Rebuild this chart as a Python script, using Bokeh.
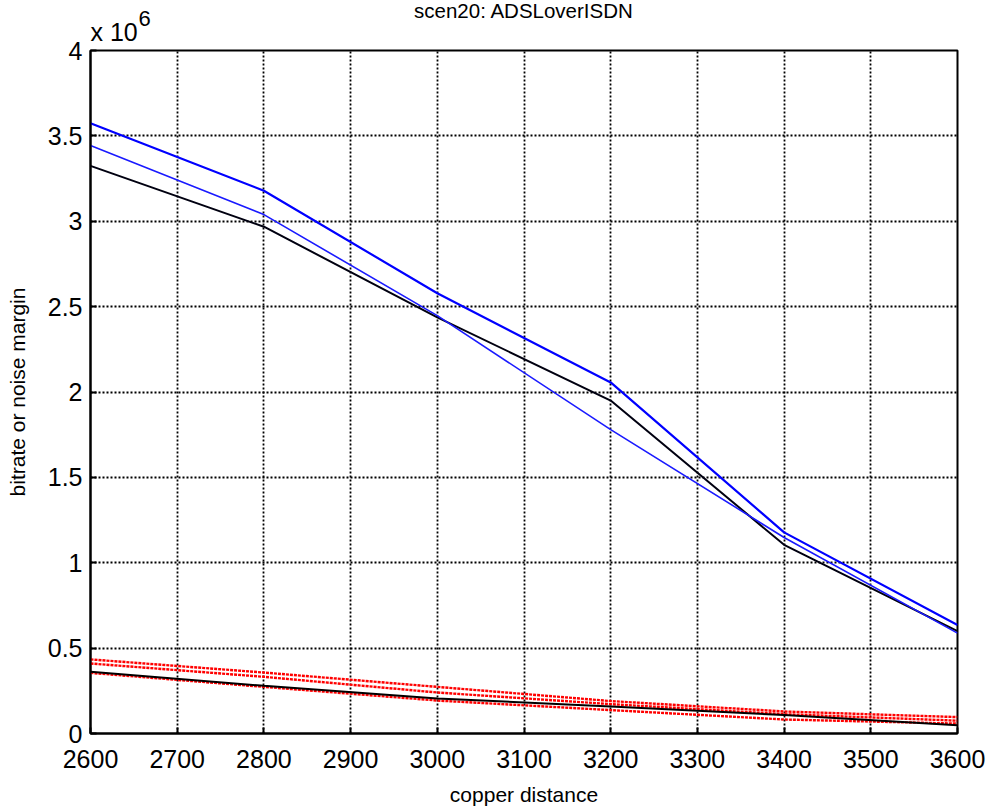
from bokeh.plotting import figure
from bokeh.models import Range1d, FixedTicker, CustomJSTickFormatter, Title
from bokeh.embed import file_html
from bokeh.resources import INLINE

distance = [2600, 2800, 3000, 3200, 3400, 3600]

blue_upper = [3.574e6, 3.179e6, 2.578e6, 2.056e6, 1.178e6, 0.635e6]
blue_lower = [3.443e6, 3.039e6, 2.447e6, 1.780e6, 1.148e6, 0.588e6]
black_upper = [3.324e6, 2.968e6, 2.437e6, 1.950e6, 1.105e6, 0.600e6]

red_top = [0.434e6, 0.357e6, 0.273e6, 0.190e6, 0.129e6, 0.096e6]
red_mid = [0.410e6, 0.332e6, 0.240e6, 0.172e6, 0.113e6, 0.075e6]
red_low = [0.355e6, 0.273e6, 0.193e6, 0.137e6, 0.082e6, 0.058e6]
black_lower = [0.361e6, 0.279e6, 0.205e6, 0.158e6, 0.108e6, 0.049e6]

x_ticks = [2600, 2700, 2800, 2900, 3000, 3100, 3200, 3300, 3400, 3500, 3600]
y_ticks = [0, 0.5e6, 1e6, 1.5e6, 2e6, 2.5e6, 3e6, 3.5e6, 4e6]

title_text = "scen20: ADSLoverISDN"
exp_base = "x 10"
exp_power = "6"
x_label = "copper distance"
y_label = "bitrate or noise margin"

FONT = "Liberation Sans"
TICK_FS = "25px"
LAB_FS = "21px"

p = figure(width=989, height=809, output_backend="svg", toolbar_location=None,
           x_range=Range1d(2600, 3600), y_range=Range1d(0, 4e6),
           min_border_left=90, min_border_right=32, min_border_top=50, min_border_bottom=76)
p.background_fill_color = "white"
p.border_fill_color = "white"
p.outline_line_color = "black"
p.outline_line_width = 2

for ax in (p.xaxis[0], p.yaxis[0]):
    ax.major_tick_in = 6
    ax.major_tick_out = 0
    ax.minor_tick_in = 0
    ax.minor_tick_out = 0
    ax.axis_line_color = "black"
    ax.axis_line_width = 2
    ax.major_tick_line_width = 2
    ax.major_label_text_font = FONT
    ax.major_label_text_font_size = TICK_FS
    ax.major_label_text_color = "black"
    ax.axis_label_text_font = FONT
    ax.axis_label_text_font_size = LAB_FS
    ax.axis_label_text_font_style = "normal"
    ax.axis_label_text_color = "black"

p.xaxis[0].ticker = FixedTicker(ticks=x_ticks)
p.yaxis[0].ticker = FixedTicker(ticks=y_ticks)
p.yaxis[0].formatter = CustomJSTickFormatter(code="return (tick/1e6).toString();")
p.xaxis[0].axis_label = x_label
p.yaxis[0].axis_label = y_label
p.xaxis[0].major_label_standoff = 16
p.yaxis[0].major_label_standoff = 8
p.xaxis[0].axis_label_standoff = 12
p.yaxis[0].axis_label_standoff = 16

p.xgrid.ticker = FixedTicker(ticks=x_ticks)
p.ygrid.ticker = FixedTicker(ticks=y_ticks)
for g in (p.xgrid[0], p.ygrid[0]):
    g.grid_line_color = "black"
    g.grid_line_dash = "2 2"
    g.grid_line_width = 1.8
    g.grid_line_alpha = 1.0

# red noise-margin lines
for ys in (red_top, red_mid, red_low):
    p.line(distance, ys, line_color="#ff0000", line_width=2.4, line_dash="3 1")
p.line(distance, black_lower, line_color="black", line_width=2)

p.line(distance, black_upper, line_color="#000010", line_width=2)
p.line(distance, blue_lower, line_color="#1a1aff", line_width=1.6)
p.line(distance, blue_upper, line_color="#0000ff", line_width=2.2)

t_base = Title(text=exp_base, align="left", text_font=FONT, text_font_size=TICK_FS,
               text_font_style="normal", text_color="black", standoff=10)
t_pow = Title(text=exp_power, align="left", offset=48, text_font=FONT, text_font_size="22px",
              text_font_style="normal", text_color="black", standoff=-30)
t_main = Title(text=title_text, align="center", text_font=FONT, text_font_size="20.5px",
               text_font_style="normal", text_color="black", standoff=-22)
p.add_layout(t_base, "above")
p.add_layout(t_pow, "above")
p.add_layout(t_main, "above")

open("out.html", "w").write(file_html(p, INLINE))
